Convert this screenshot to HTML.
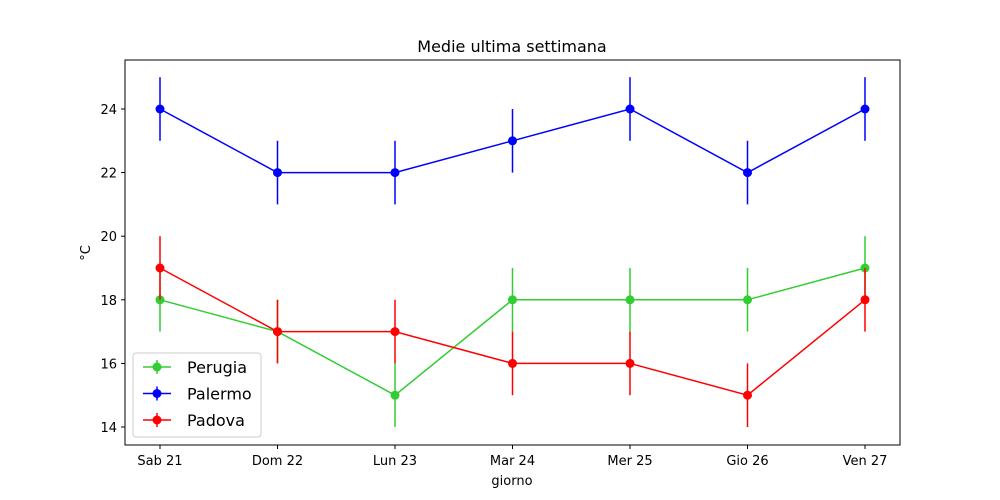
<!DOCTYPE html>
<html><head><meta charset="utf-8"><style>
body{margin:0;background:#fff}
svg{display:block;font-family:"DejaVu Sans","Liberation Sans",sans-serif}
</style></head><body>
<svg id="c" width="1000" height="500"></svg>
<script>
const categories=["Sab 21","Dom 22","Lun 23","Mar 24","Mer 25","Gio 26","Ven 27"];
const perugia=[18,17,15,18,18,18,19];
const palermo=[24,22,22,23,24,22,24];
const padova=[19,17,17,16,16,15,18];
const errors=[1,1,1,1,1,1,1];
const yTicks=[14,16,18,20,22,24];
const seriesNames=["Perugia","Palermo","Padova"];
const colors=["#32cd32","#0000ff","#ff0000"];
const L=125,R=900,T=60,B=445;
const xs=i=>160+i*(865-160)/(categories.length-1);
const ys=v=>427-(v-14)*31.8;
const svg=document.getElementById('c');
const NS="http://www.w3.org/2000/svg";
function mk(t,a,txt){const e=document.createElementNS(NS,t);for(const k in a)e.setAttribute(k,a[k]);if(txt!==undefined)e.textContent=txt;svg.appendChild(e);return e;}
let e;
e=mk('text',{x:512,y:52,'text-anchor':'middle','font-size':16},'Medie ultima settimana');

categories.forEach((c,i)=>{mk('line',{x1:xs(i),x2:xs(i),y1:B,y2:B+4,stroke:'#000'});
e=mk('text',{x:xs(i),y:B+20,'text-anchor':'middle','font-size':13},c);
});
yTicks.forEach(v=>{mk('line',{x1:L-4,x2:L,y1:ys(v),y2:ys(v),stroke:'#000'});
e=mk('text',{x:L-8,y:ys(v)+5,'text-anchor':'end','font-size':13},v);
});
e=mk('text',{x:512,y:485,'text-anchor':'middle','font-size':13},'giorno');

e=mk('text',{x:90,y:253,'text-anchor':'middle','font-size':13,transform:'rotate(-90 90 253)'},'°C');

[perugia,palermo,padova].forEach((d,s)=>{
 const g=document.createElementNS(NS,'g');svg.appendChild(g);
 
 
 d.forEach((v,i)=>{const l=document.createElementNS(NS,'line');
  l.setAttribute('x1',xs(i));l.setAttribute('x2',xs(i));l.setAttribute('y1',ys(v-errors[i]));l.setAttribute('y2',ys(v+errors[i]));l.setAttribute('stroke',colors[s]);l.setAttribute('stroke-width',1.5);g.appendChild(l);});
 const p=document.createElementNS(NS,'polyline');
 p.setAttribute('points',d.map((v,i)=>xs(i)+','+ys(v)).join(' '));
 p.setAttribute('fill','none');p.setAttribute('stroke',colors[s]);p.setAttribute('stroke-width',1.5);g.appendChild(p);
 d.forEach((v,i)=>{const c=document.createElementNS(NS,'circle');
  c.setAttribute('cx',xs(i));c.setAttribute('cy',ys(v));c.setAttribute('r',4.5);c.setAttribute('fill',colors[s]);
  g.appendChild(c);});
});
mk('rect',{x:L,y:T,width:R-L,height:B-T,fill:'none',stroke:'#000','stroke-width':1});
e=mk('rect',{x:133,y:353,width:128,height:84,rx:3,fill:'#fff','fill-opacity':0.8,stroke:'#ccc'});

seriesNames.forEach((n,s)=>{const y=367+s*26.5;
 mk('line',{x1:143,x2:171,y1:y,y2:y,stroke:colors[s],'stroke-width':1.5});
 mk('line',{x1:157,x2:157,y1:y-7,y2:y+7,stroke:colors[s],'stroke-width':1.5});
 mk('circle',{cx:157,cy:y,r:4.5,fill:colors[s]});
 e=mk('text',{x:187,y:y+6,'font-size':16},n);
 });
</script>
</body></html>
